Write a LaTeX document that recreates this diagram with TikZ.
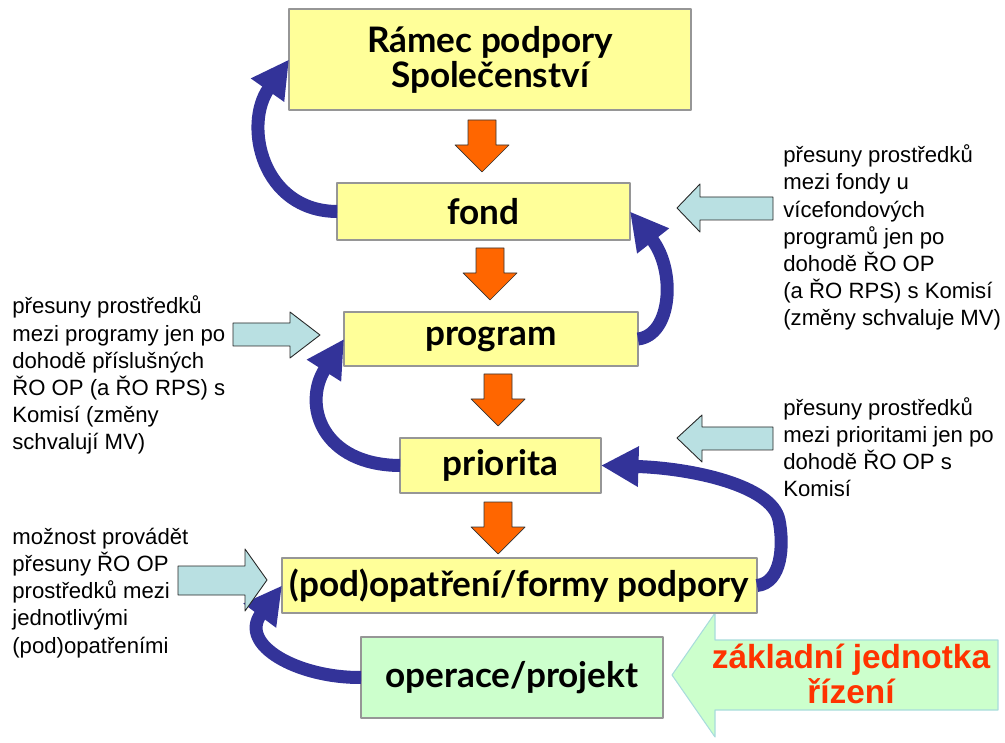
\documentclass[tikz,border=0pt]{standalone}
\usepackage{fontspec}
\setmainfont{Liberation Sans}
\newfontfamily\boxfont{Lato}
\usetikzlibrary{arrows.meta}

\definecolor{boxyellow}{HTML}{FFFF99}
\definecolor{boxgreen}{HTML}{CCFFCC}
\definecolor{boxgray}{HTML}{969696}
\definecolor{flowred}{HTML}{FF6600}
\definecolor{backblue}{HTML}{333399}
\definecolor{notecyan}{HTML}{B9E0E2}
\definecolor{rimcyan}{HTML}{A8DCDC}
\definecolor{keyred}{HTML}{FF3300}

\begin{document}
\begin{tikzpicture}[x=0.02cm,y=-0.02cm,line join=round,
  tier/.style={draw=boxgray,line width=0.8pt,fill=boxyellow,inner sep=0pt,outer sep=0pt,
    align=center,font=\boxfont\bfseries\fontsize{20}{20}\selectfont},
  note/.style={anchor=base west,align=left,inner sep=0pt,font=\fontsize{12.6}{15.5}\selectfont},
  flow/.style={draw=black!80,line width=0.4pt,fill=flowred},
  hint/.style={draw=black!85,line width=0.5pt,fill=notecyan},
  backarrow/.style={draw=backblue,line width=0.26cm,-{Triangle[length=0.75cm,width=0.76cm]}}]
  \useasboundingbox (0,0) rectangle (1005,743);

  % big arrow behind the boxes
  \draw[rimcyan,line width=0.6pt,fill=boxgreen] (672,675) -- (715,613) -- (715,640) -- (998,640)
    -- (998,710) -- (715,710) -- (715,737) -- cycle;
  \node[align=center,inner sep=0pt,text=keyred,font=\bfseries\fontsize{19}{20}\selectfont]
    (key) at (851,674) {základní jednotka\\řízení};

  % boxes
  \node[tier,minimum width=8.04cm,minimum height=2.02cm] (ramec) at (490,59.5) {Rámec podpory\\Společenství};
  \node[tier,minimum width=5.86cm,minimum height=1.14cm] (fond) at (483.5,211.5) {fond};
  \node[tier,minimum width=5.88cm,minimum height=1.08cm] (program) at (491,339) {program};
  \node[tier,minimum width=4.02cm,minimum height=1.10cm] (priorita) at (500.5,465.5) {priorita};
  \node[tier,minimum width=9.50cm,minimum height=1.10cm] (opatreni) at (519.5,585.5) {(pod)opatření/formy podpory};
  \node[tier,fill=boxgreen,minimum width=6.04cm,minimum height=1.62cm] (operace) at (512,677.5) {operace/projekt};

  % orange arrows down
  \foreach \cx/\ty in {482/120,490/248,498/374,498/502}
    \draw[flow] (\cx-14,\ty) -- (\cx+14,\ty) -- (\cx+14,\ty+25) -- (\cx+27,\ty+25) -- (\cx,\ty+52)
      -- (\cx-27,\ty+25) -- (\cx-14,\ty+25) -- cycle;

  % curved arrows back up
  \draw[backarrow] (fond.west) .. controls (262,211) and (243,125) .. (ramec.west);
  \draw[backarrow] (program.east) .. controls (672,335) and (676,270) .. (fond.east);
  \draw[backarrow] (priorita.west) .. controls (322,465) and (302,405) .. (program.west);
  \draw[backarrow] (opatreni.east) .. controls (782,583) and (784,545) .. (779,520)
    .. controls (772,485) and (690,468) .. (priorita.east);
  \draw[backarrow] (operace.west) .. controls (298,678) and (238,645) .. (opatreni.west);

  % notes and their arrows
  \draw[hint] (677,208) -- (700,184) -- (700,197) -- (773,197) -- (773,220) -- (700,220) -- (700,232) -- cycle;
  \draw[hint] (320,335) -- (290,312) -- (290,323) -- (233,323) -- (233,346) -- (290,346) -- (290,358) -- cycle;
  \draw[hint] (677,438) -- (702,415) -- (702,427) -- (773,427) -- (773,450) -- (702,450) -- (702,462) -- cycle;
  \draw[hint] (267,580) -- (245,549) -- (245,566) -- (178,566) -- (178,595) -- (245,595) -- (245,611) -- cycle;

  \node[note] (fondnote) at (783,326) {přesuny prostředků\\mezi fondy u\\vícefondových\\programů jen po\\dohodě ŘO OP\\(a ŘO RPS) s Komisí\\(změny schvaluje MV)};
  \node[note] (prognote) at (12,450) {přesuny prostředků\\mezi programy jen po\\dohodě příslušných\\ŘO OP (a ŘO RPS) s\\Komisí (změny\\schvalují MV)};
  \node[note] (prionote) at (783,497) {přesuny prostředků\\mezi prioritami jen po\\dohodě ŘO OP s\\Komisí};
  \node[note] (opatnote) at (12,653) {možnost provádět\\přesuny ŘO OP\\prostředků mezi\\jednotlivými\\(pod)opatřeními};
\end{tikzpicture}
\end{document}
